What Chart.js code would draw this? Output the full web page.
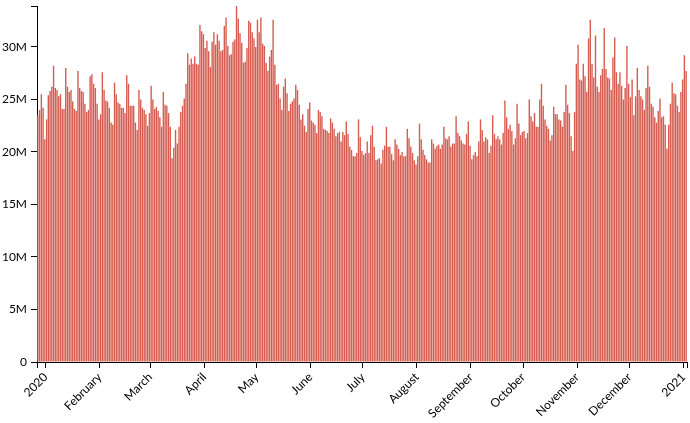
<!DOCTYPE html>
<html><head><meta charset="utf-8">
<script src="https://cdn.jsdelivr.net/npm/chart.js@4/dist/chart.umd.min.js"></script>
<style>html,body{margin:0;padding:0;background:#fff}canvas{display:block}</style>
</head><body>
<canvas id="c" width="690" height="423"></canvas>
<script>
// Daily values (millions), one per day from 2019-12-27 to 2021-01-02
const firstDay = '2019-12-27';
const values = [
23.5,24.0,25.5,24.2,21.2,23.1,25.4,25.8,26.2,28.2,
26.1,25.9,25.3,25.5,24.1,24.1,28.0,26.2,25.7,25.9,
24.8,24.1,23.9,27.7,26.1,25.8,25.7,24.6,23.8,24.0,
27.2,27.4,26.5,26.1,24.6,23.1,23.6,27.6,25.9,24.9,
24.8,24.2,22.8,22.6,26.6,25.5,24.7,24.6,24.2,24.2,
23.7,27.3,26.5,24.4,24.4,24.4,22.8,22.1,25.9,25.0,
24.2,24.0,23.6,22.5,23.7,
26.3,25.0,24.1,24.3,23.9,23.3,22.4,25.7,24.5,24.4,
23.7,22.4,19.4,20.4,22.1,20.8,22.4,23.8,24.4,25.1,
26.5,29.4,28.3,28.9,28.4,29.1,28.4,28.3,32.1,31.5,
31.2,29.9,30.6,29.6,28.1,30.5,31.4,30.2,31.2,30.6,
29.6,29.7,32.0,32.8,30.1,29.2,29.3,30.5,30.7,33.9,
32.7,31.3,30.4,28.5,28.6,29.9,32.5,32.3,31.4,30.8,
30.0,32.6,31.4,32.8,30.3,30.1,28.5,27.7,29.1,29.7,
32.6,28.3,
26.4,26.5,25.1,24.0,26.2,27.0,25.6,23.9,24.6,24.8,
25.1,26.4,25.9,24.5,23.1,23.6,22.5,21.9,24.1,24.7,
23.0,22.8,22.6,21.8,24.0,23.8,23.4,22.2,22.1,22.0,
21.8,23.2,22.8,22.2,21.5,21.8,21.9,21.0,21.9,21.6,
22.9,21.7,20.5,20.2,19.6,19.6,19.9,23.1,21.4,20.1,
19.7,19.9,21.0,19.9,21.6,22.5,20.5,19.2,19.3,19.4,
18.9,20.2,20.6,22.4,20.5,20.5,
19.8,19.2,21.2,20.7,20.3,19.7,20.0,19.6,19.6,22.2,
21.3,20.5,19.9,19.2,18.8,19.6,22.7,21.2,20.2,19.7,
19.3,19.0,19.0,21.2,20.8,20.3,20.6,20.7,20.3,20.7,
22.4,21.3,21.2,21.5,20.5,20.8,20.8,23.4,21.8,21.5,
21.1,20.8,20.7,21.7,22.9,20.6,19.3,19.7,20.0,19.6,
21.0,23.1,22.1,21.0,21.4,21.2,19.9,20.6,23.5,21.7,
21.2,21.5,21.2,20.7,21.8,24.9,23.3,22.2,22.6,22.0,
20.7,21.3,24.6,22.7,21.6,21.9,22.0,21.3,21.8,25.0,
23.4,22.9,23.7,22.4,22.4,25.0,26.5,24.4,23.1,22.5,
22.2,21.1,21.6,24.3,23.6,23.6,23.1,23.0,22.4,23.8,
26.4,24.5,23.7,21.5,20.1,23.8,28.4,
30.2,26.9,26.8,28.4,27.2,25.7,30.8,32.6,28.4,27.1,
31.1,26.2,25.7,27.3,27.9,31.8,27.9,27.1,27.0,25.9,
29.0,30.9,27.6,26.5,27.6,26.3,25.0,26.1,30.1,26.5,
25.2,26.9,23.5,25.3,28.0,25.9,25.3,25.0,24.0,26.1,
28.2,26.2,24.6,24.3,23.3,22.8,23.9,25.1,23.3,23.4,
22.6,20.3,22.6,24.6,26.6,25.6,25.5,24.4,23.8,25.7,
26.9,29.2,27.7
];
// Day offsets (from firstDay) of month boundaries and their labels
const tickDays = [5,36,65,96,126,157,187,218,249,279,310,340,371];
const tickLabels = ['2020','February','March','April','May','June','July','August','September','October','November','December','2021'];
const yTicks = [0,5,10,15,20,25,30];

const domainEnd = values.length;
const points = values.map((v,i)=>({x:i+0.5,y:v}));
const font = {family:'Lato', size:12};

new Chart(document.getElementById('c'), {
  type:'bar',
  data:{datasets:[{data:points, backgroundColor:'#d65c50', borderWidth:0, barPercentage:1, categoryPercentage:0.8}]},
  options:{
    responsive:false, animation:false,
    layout:{padding:{top:6,right:3,left:0,bottom:0}},
    plugins:{legend:{display:false},tooltip:{enabled:false}},
    scales:{
      x:{type:'linear', min:0, max:domainEnd, offset:false,
        afterBuildTicks(s){ s.ticks=[0,...tickDays,domainEnd].map(v=>({value:v})); },
        afterFit(s){ s.height=61; s.paddingLeft=0; s.paddingRight=0; },
        grid:{display:true, offset:false, drawOnChartArea:false, drawTicks:true, tickLength:6, tickColor:'#000', color:'#000'},
        border:{display:true, color:'#000', width:1},
        ticks:{autoSkip:false, maxRotation:45, minRotation:45, padding:2, color:'#000', font,
          callback(v){ const i=tickDays.indexOf(v); return i<0?'':tickLabels[i]; }}
      },
      y:{min:0, max:Math.max(...values),
        afterBuildTicks(s){ s.ticks=[...yTicks, s.max].map(v=>({value:v})); },
        afterFit(s){ s.width=37; s.paddingTop=0; s.paddingBottom=0; },
        grid:{display:true, drawOnChartArea:false, drawTicks:true, tickLength:6, tickColor:'#000', color:'#000'},
        border:{display:true, color:'#000', width:1},
        ticks:{padding:4, color:'#000', font,
          callback(v){ return yTicks.includes(v) ? (v===0?'0':v+'M') : ''; }}
      }
    }
  }
});
</script>
</body></html>
